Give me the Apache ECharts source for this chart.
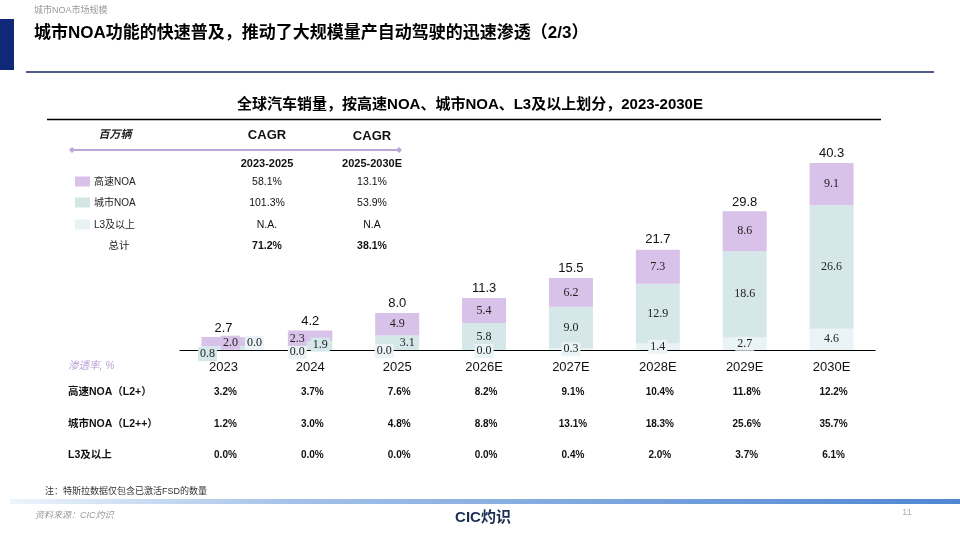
<!DOCTYPE html>
<html><head><meta charset="utf-8">
<script src="https://cdn.jsdelivr.net/npm/echarts@6/dist/echarts.min.js"></script>
<style>html,body{margin:0;padding:0;background:#fff}#c{width:960px;height:540px}</style>
</head><body><div id="c"></div>
<script>
const categories = ['2023','2024','2025','2026E','2027E','2028E','2029E','2030E'];
const highwayNOA = [2.0, 2.3, 4.9, 5.4, 6.2, 7.3, 8.6, 9.1];
const cityNOA = [0.8, 1.9, 3.1, 5.8, 9.0, 12.9, 18.6, 26.6];
const l3Plus = [0.0, 0.0, 0.0, 0.0, 0.3, 1.4, 2.7, 4.6];
const totals = [2.7, 4.2, 8.0, 11.3, 15.5, 21.7, 29.8, 40.3];
const penHighway = ['3.2%','3.7%','7.6%','8.2%','9.1%','10.4%','11.8%','12.2%'];
const penCity = ['1.2%','3.0%','4.8%','8.8%','13.1%','18.3%','25.6%','35.7%'];
const penL3 = ['0.0%','0.0%','0.0%','0.0%','0.4%','2.0%','3.7%','6.1%'];
const legendNames = ['高速NOA','城市NOA','L3及以上'];
const cagr2325 = ['58.1%','101.3%','N.A.','71.2%'];
const cagr2530 = ['13.1%','53.9%','N.A','38.1%'];

const C_H = '#d8c2e9', C_C = '#d5e7e8', C_L = '#eaf3f5';
const SANS = "'Liberation Sans','Noto Sans CJK SC',sans-serif";
const SERIF = "'Liberation Serif','DejaVu Serif',serif";

// label offsets for crowded small segments (style, by index)
const offH = {0:[7,1],1:[-13,3]};
const offC = {0:[-16,6],1:[10,-1],2:[10,0]};
const offL = {0:[31,-7],1:[-13,2],2:[-13,1],3:[0,1]};

function mk(vals, offs){
  return vals.map((v,i)=>{
    const d = {value:v};
    if (offs[i]) d.label = {offset: offs[i]};
    return d;
  });
}
function segLabel(color){
  return {show:true, position:'inside', fontFamily:SERIF, fontSize:12, color:'#222',
          backgroundColor:color, padding:[1,2], formatter:p=>p.value.toFixed(1)};
}

const chart = echarts.init(document.getElementById('c'));
const option = {
  animation:false,
  grid:{left:180, right:85, top:118, bottom:190},
  xAxis:{type:'category', data:categories,
    axisLine:{lineStyle:{color:'#000', width:1.2}}, axisTick:{show:false},
    axisLabel:{fontFamily:SANS, fontSize:13, color:'#111', margin:11}},
  yAxis:{type:'value', min:0, max:50, show:false, splitLine:{show:false}},
  series:[
    {name:'total', type:'bar', data:totals, barWidth:44, barGap:'-100%',
     itemStyle:{color:'rgba(0,0,0,0)'}, z:1, silent:true,
     label:{show:true, position:'top', distance:3, fontFamily:SANS, fontSize:13, color:'#111',
       formatter:p=>p.value.toFixed(1)}},
    {name:'L3及以上', type:'bar', stack:'s', data:mk(l3Plus,offL), barWidth:44,
     itemStyle:{color:C_L}, label:segLabel(C_L), z:2},
    {name:'城市NOA', type:'bar', stack:'s', data:mk(cityNOA,offC), barWidth:44,
     itemStyle:{color:C_C}, label:segLabel(C_C), z:2},
    {name:'高速NOA', type:'bar', stack:'s', data:mk(highwayNOA,offH), barWidth:44,
     itemStyle:{color:C_H}, label:segLabel(C_H), z:2}
  ]
};
chart.setOption(option);

const g = [];
function txt(x,y,text,opt){
  g.push({type:'text', x:x, y:y, silent:true, z:10, style:Object.assign({text:text, fontFamily:SANS,
    fontSize:10, fill:'#111', textAlign:'left', textVerticalAlign:'middle'}, opt||{})});
}
// header
txt(34,11,'城市NOA市场规模',{fontSize:9, fill:'#9a9a9a'});
g.push({type:'rect', shape:{x:0,y:19,width:14,height:51}, style:{fill:'#10287a'}});
txt(34,33,'城市NOA功能的快速普及，推动了大规模量产自动驾驶的迅速渗透（2/3）',{fontSize:17, fontWeight:'bold', fill:'#000'});
g.push({type:'line', shape:{x1:26,y1:72,x2:934,y2:72}, style:{stroke:'#1a2766', lineWidth:1.5}});
txt(470,105,'全球汽车销量，按高速NOA、城市NOA、L3及以上划分，2023-2030E',{fontSize:15, fontWeight:'bold', textAlign:'center', fill:'#000'});
g.push({type:'line', shape:{x1:47,y1:119.5,x2:881,y2:119.5}, style:{stroke:'#000', lineWidth:1.3}});
// legend table
txt(115,135,'百万辆',{fontSize:11, fontStyle:'italic', textAlign:'center', fontWeight:'bold', fill:'#222'});
txt(267,135,'CAGR',{fontSize:13, fontWeight:'bold', textAlign:'center'});
txt(372,136,'CAGR',{fontSize:13, fontWeight:'bold', textAlign:'center'});
g.push({type:'line', shape:{x1:72,y1:150,x2:399,y2:150}, style:{stroke:'#bda6da', lineWidth:2}});
[72,399].forEach(x=>g.push({type:'polygon', shape:{points:[[x-3,150],[x,147],[x+3,150],[x,153]]}, style:{fill:'#bda6da'}}));
txt(267,164,'2023-2025',{fontSize:11, fontWeight:'bold', textAlign:'center'});
txt(372,164,'2025-2030E',{fontSize:11, fontWeight:'bold', textAlign:'center'});
const rowsY = [182,203,225,246];
const legCols = [C_H,'#d3e6e3','#e8f1f3'];
legendNames.forEach((n,i)=>{
  g.push({type:'rect', shape:{x:75,y:rowsY[i]-5.5,width:15,height:10}, style:{fill:legCols[i]}});
  txt(94,rowsY[i],n,{fontSize:10, fill:'#222'});
});
txt(119,246,'总计',{fontSize:10.5, textAlign:'center', fill:'#222'});
cagr2325.forEach((v,i)=>txt(267,rowsY[i],v,{fontSize:10.5, textAlign:'center', fontWeight:i===3?'bold':'normal'}));
cagr2530.forEach((v,i)=>txt(372,rowsY[i],v,{fontSize:10.5, textAlign:'center', fontWeight:i===3?'bold':'normal'}));
// penetration
txt(68,366,'渗透率, %',{fontSize:10.5, fontStyle:'italic', fill:'#b99ed6'});
const penRows = [[penHighway,'高速NOA（L2+）',392.5],[penCity,'城市NOA（L2++）',424],[penL3,'L3及以上',455.5]];
penRows.forEach(r=>{
  txt(68,r[2],r[1],{fontSize:10.5, fontWeight:'bold'});
  r[0].forEach((v,i)=>{
    const x = chart.convertToPixel({xAxisIndex:0}, categories[i]);
    txt(x+2,r[2],v,{fontSize:10, fontWeight:'bold', textAlign:'center'});
  });
});
// footer
txt(45,492,'注：特斯拉数据仅包含已激活FSD的数量',{fontSize:9, fill:'#333'});
g.push({type:'rect', shape:{x:10,y:499,width:950,height:5}, style:{fill:new echarts.graphic.LinearGradient(0,0,1,0,[{offset:0,color:'#eef4fb'},{offset:0.3,color:'#a3c1e8'},{offset:1,color:'#4f87d2'}])}});
txt(35,515,'资料来源：CIC灼识',{fontSize:9, fontStyle:'italic', fill:'#999'});
txt(483,518,'CIC灼识',{fontSize:15, fontWeight:'bold', textAlign:'center', fill:'#1b2d52'});
txt(907,513,'11',{fontSize:9, fill:'#aaa', textAlign:'center'});

chart.setOption({graphic:g});
</script></body></html>
